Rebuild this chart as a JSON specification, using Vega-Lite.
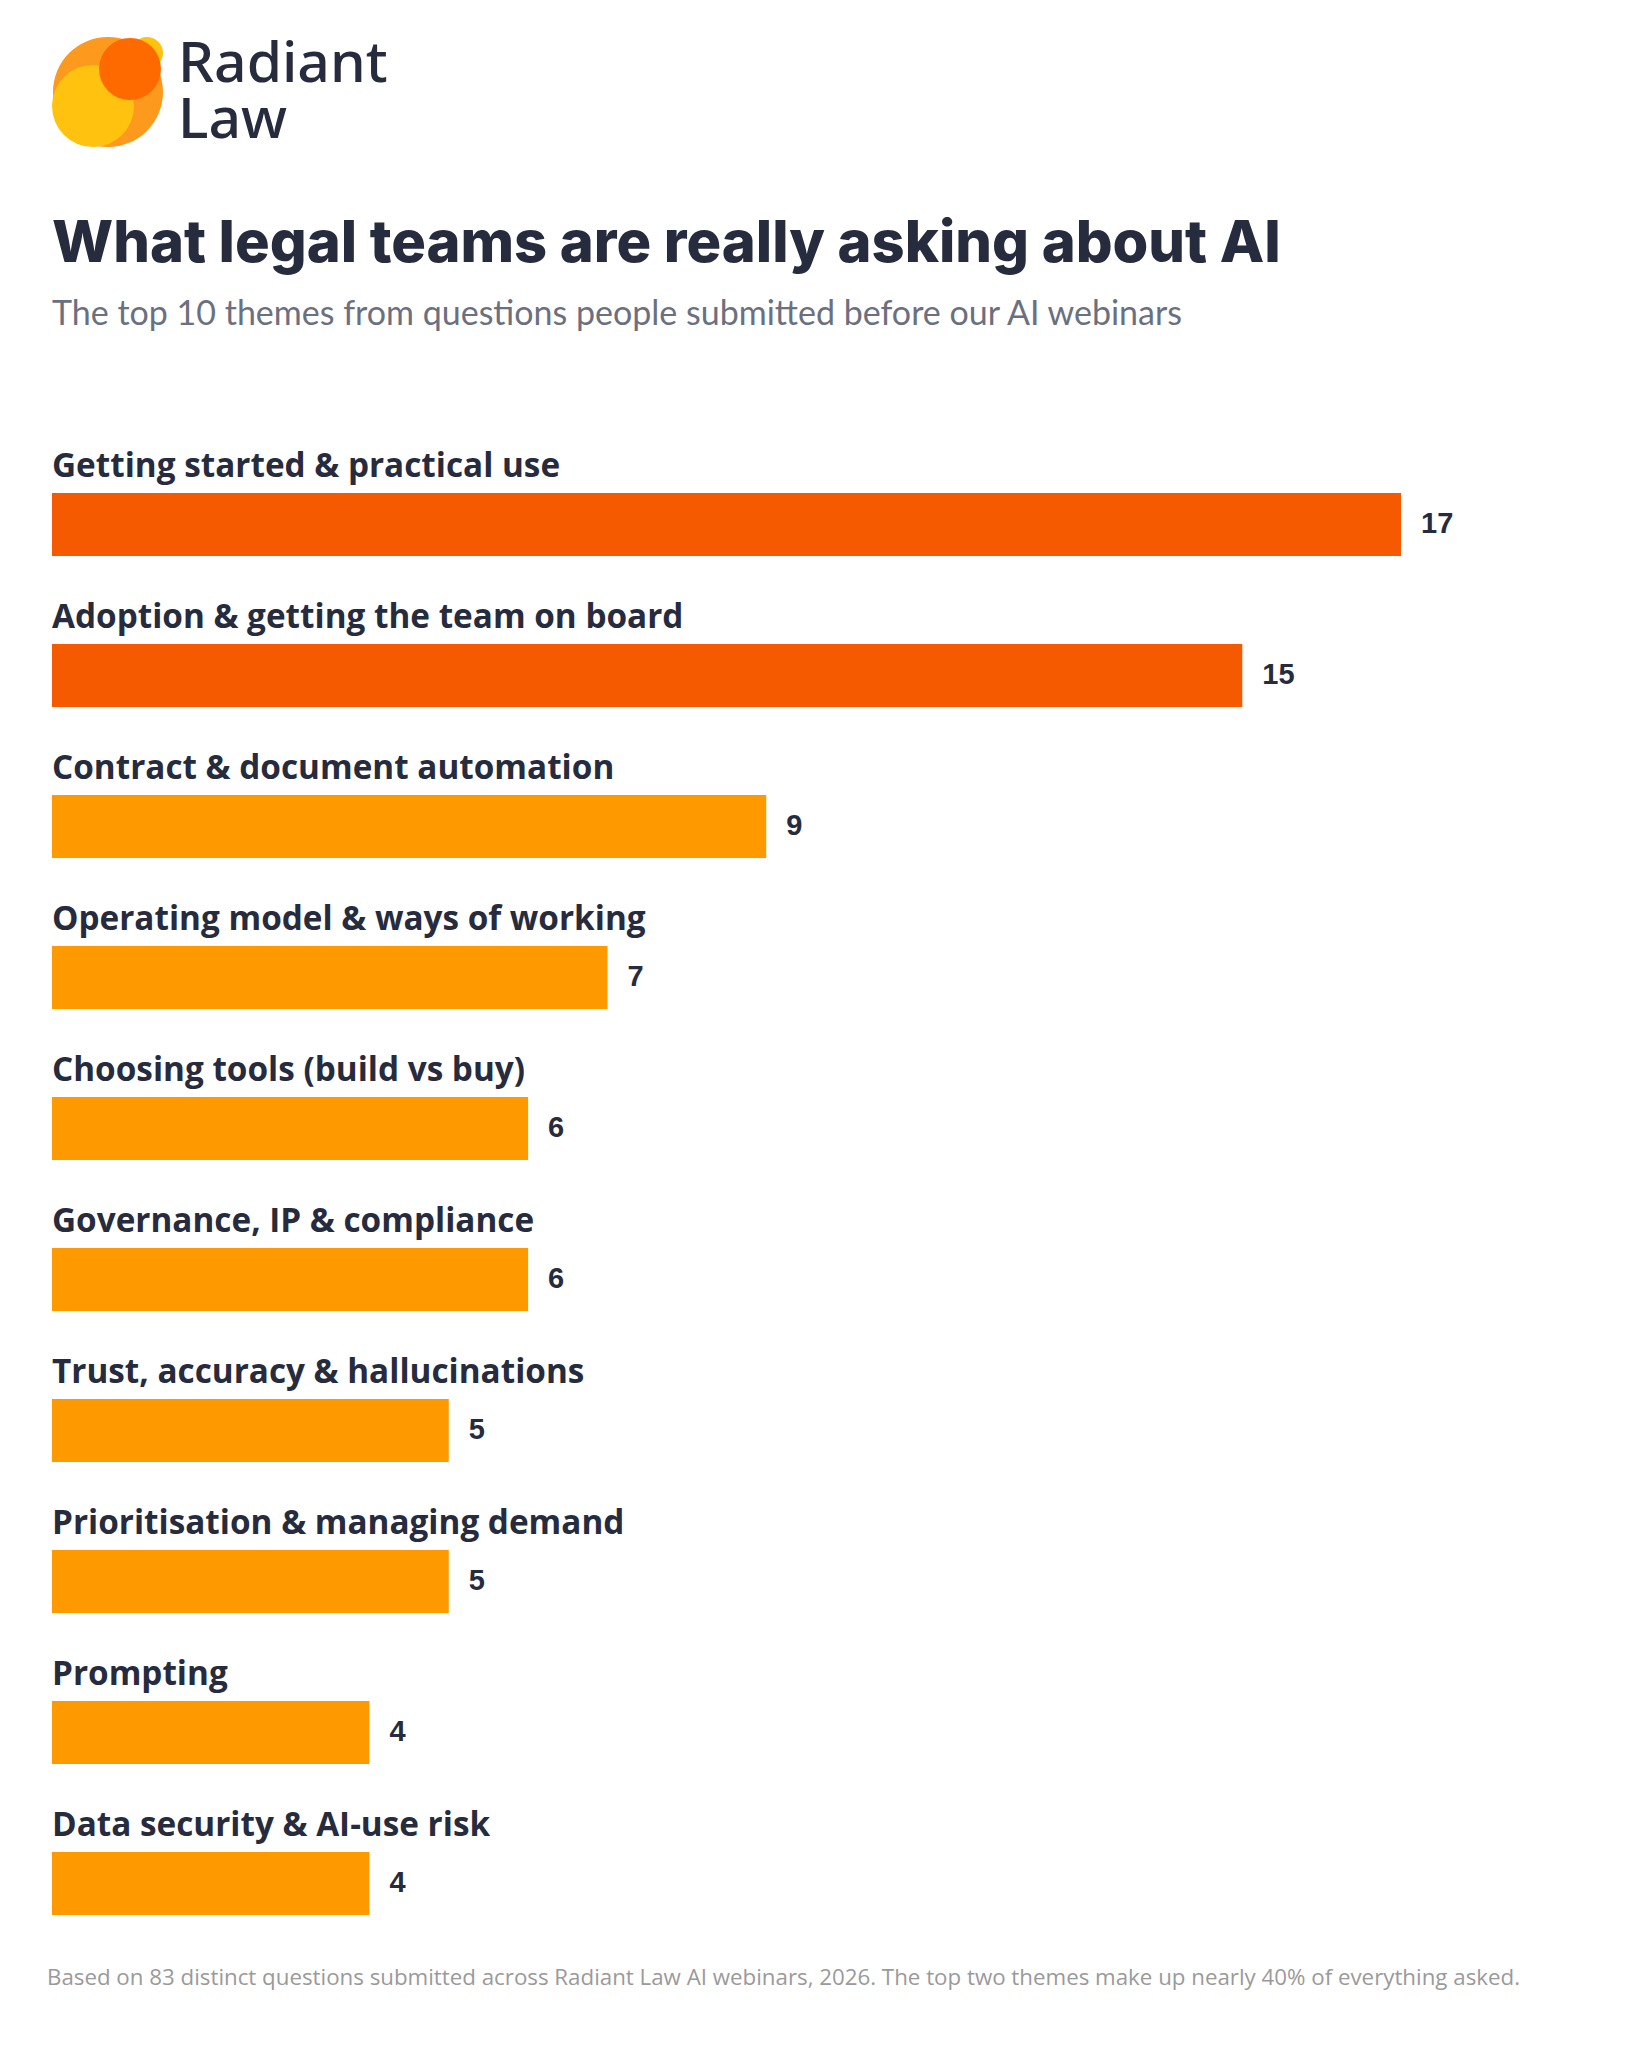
{
  "$schema": "https://vega.github.io/schema/vega-lite/v6.json",
  "background": "white",
  "padding": {"left": 47, "top": 30, "right": 40, "bottom": 40},
  "config": {"view": {"stroke": null}, "font": "Lato"},
  "resolve": {"scale": {"color": "independent", "opacity": "independent", "size": "independent"}},
  "title": {
    "text": "Based on 83 distinct questions submitted across Radiant Law AI webinars, 2026. The top two themes make up nearly 40% of everything asked.",
    "orient": "bottom",
    "anchor": "start",
    "font": "Open Sans",
    "fontSize": 22.3,
    "fontWeight": "normal",
    "color": "#9a9a9a",
    "baseline": "top",
    "offset": 16,
    "dx": -5
  },
  "spacing": 66,
  "vconcat": [
    {
      "width": 360,
      "height": 120,
      "layer": [
        {
          "data": {"values": [
            {"part": "orange", "cx": 56, "cy": 62, "r": 55},
            {"part": "yellow", "cx": 41, "cy": 76, "r": 41},
            {"part": "small", "cx": 95, "cy": 23, "r": 16},
            {"part": "deep", "cx": 78, "cy": 39, "r": 31}
          ]},
          "mark": {"type": "point", "shape": "circle", "filled": true, "strokeWidth": 0},
          "encoding": {
            "x": {"field": "cx", "type": "quantitative", "axis": null, "scale": {"domain": [0, 360], "nice": false, "zero": false}},
            "y": {"field": "cy", "type": "quantitative", "axis": null, "scale": {"domain": [0, 120], "nice": false, "zero": false, "reverse": true}},
            "size": {"field": "r", "type": "quantitative", "legend": null, "scale": {"type": "pow", "exponent": 2, "domain": [0, 60], "range": [0, 14400]}},
            "color": {"field": "part", "type": "nominal", "legend": null, "scale": {"domain": ["orange", "yellow", "small", "deep"], "range": ["#fd9a1d", "#ffc20e", "#ffc20e", "#ff6a00"]}},
            "opacity": {"field": "part", "type": "nominal", "legend": null, "scale": {"domain": ["orange", "yellow", "small", "deep"], "range": [1, 1, 1, 0.8]}}
          }
        },
        {
          "data": {"values": [
            {"word": "Radiant", "tx": 126, "ty": 52},
            {"word": "Law", "tx": 126, "ty": 108}
          ]},
          "mark": {"type": "text", "align": "left", "baseline": "alphabetic", "font": "Noto Sans", "fontWeight": 500, "fontSize": 57, "color": "#262b3d"},
          "encoding": {
            "x": {"field": "tx", "type": "quantitative", "axis": null},
            "y": {"field": "ty", "type": "quantitative", "axis": null},
            "text": {"field": "word"}
          }
        }
      ]
    },
    {
      "width": 1349,
      "height": {"step": 151},
      "title": {
        "text": "What legal teams are really asking about AI",
        "subtitle": "The top 10 themes from questions people submitted before our AI webinars",
        "anchor": "start",
        "font": "Inter",
        "fontSize": 57.8,
        "fontWeight": 800,
        "color": "#262b3d",
        "subtitleFont": "Lato",
        "subtitleFontSize": 34,
        "subtitleColor": "#6b7080",
        "subtitlePadding": 24,
        "offset": 109
      },
      "data": {"values": [
        {"theme": "Getting started & practical use", "count": 17, "tier": "top"},
        {"theme": "Adoption & getting the team on board", "count": 15, "tier": "top"},
        {"theme": "Contract & document automation", "count": 9, "tier": "other"},
        {"theme": "Operating model & ways of working", "count": 7, "tier": "other"},
        {"theme": "Choosing tools (build vs buy)", "count": 6, "tier": "other"},
        {"theme": "Governance, IP & compliance", "count": 6, "tier": "other"},
        {"theme": "Trust, accuracy & hallucinations", "count": 5, "tier": "other"},
        {"theme": "Prioritisation & managing demand", "count": 5, "tier": "other"},
        {"theme": "Prompting", "count": 4, "tier": "other"},
        {"theme": "Data security & AI-use risk", "count": 4, "tier": "other"}
      ]},
      "encoding": {
        "y": {"field": "theme", "type": "nominal", "sort": null, "axis": null, "scale": {"paddingInner": 0, "paddingOuter": 0}}
      },
      "layer": [
        {
          "mark": {"type": "bar", "height": 63, "yOffset": 8},
          "encoding": {
            "x": {"field": "count", "type": "quantitative", "axis": null, "scale": {"domain": [0, 17], "nice": false}},
            "color": {"condition": {"test": "datum.tier === 'top'", "value": "#f55a00"}, "value": "#ff9900"}
          }
        },
        {
          "mark": {"type": "text", "align": "left", "baseline": "alphabetic", "yOffset": -39.5, "font": "Open Sans", "fontWeight": "bold", "fontSize": 33.3, "color": "#262b3d"},
          "encoding": {
            "x": {"datum": 0, "type": "quantitative"},
            "text": {"field": "theme"}
          }
        },
        {
          "mark": {"type": "text", "align": "left", "baseline": "alphabetic", "dx": 20, "yOffset": 16.8, "font": "Liberation Sans", "fontWeight": "bold", "fontSize": 29, "color": "#262b3d"},
          "encoding": {
            "x": {"field": "count", "type": "quantitative"},
            "text": {"field": "count"}
          }
        }
      ]
    }
  ]
}
